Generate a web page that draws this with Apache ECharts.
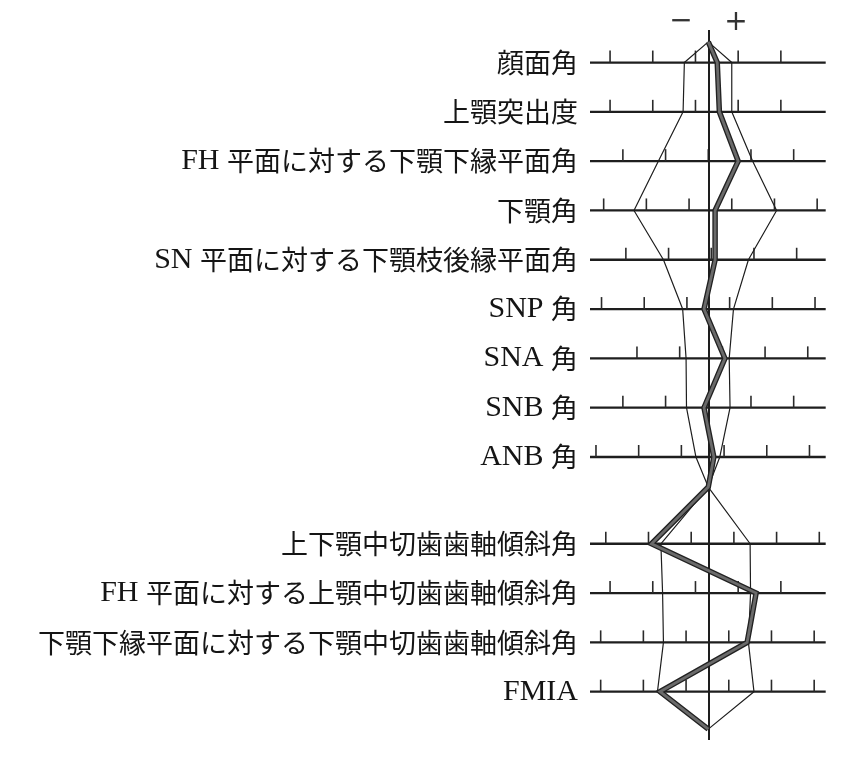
<!DOCTYPE html>
<html>
<head>
<meta charset="utf-8">
<script src="https://cdn.jsdelivr.net/npm/echarts@6/dist/echarts.min.js"></script>
<style>
html,body{margin:0;padding:0;background:#fff;}
#chart{width:844px;height:757px;}
</style>
</head>
<body>
<div id="chart"></div>
<script>
// ---- data (x values in tick-interval units; 0 = mean) ----
const categories = [
  '顔面角',
  '上顎突出度',
  'FH 平面に対する下顎下縁平面角',
  '下顎角',
  'SN 平面に対する下顎枝後縁平面角',
  'SNP 角',
  'SNA 角',
  'SNB 角',
  'ANB 角',
  '上下顎中切歯歯軸傾斜角',
  'FH 平面に対する上顎中切歯歯軸傾斜角',
  '下顎下縁平面に対する下顎中切歯歯軸傾斜角',
  'FMIA'
];
// offset of the scale ticks from the mean, per row
const tickPhase = [-0.3, -0.3, 0, -0.45, 0.07, 0.5, 0.33, 0, 0.37, -0.4, -0.3, 0.48, 0.48];
// mean - 1SD
const normLow  = [-0.56, -0.59, -1.17, -1.74, -1.05, -0.60, -0.52, -0.51, -0.29, -1.11, -1.07, -1.05, -1.19];
// mean + 1SD
const normHigh = [0.55, 0.55, 1.04, 1.60, 0.94, 0.59, 0.49, 0.51, 0.27, 0.98, 0.99, 0.94, 1.07];
// patient
const patient  = [0.21, 0.26, 0.70, 0.16, 0.16, -0.10, 0.39, -0.10, 0.13, -1.33, 1.12, 0.91, -1.13];
const signLabels = ['−', '+'];

// ---- layout ----
const X_MIN = -2.77, X_MAX = 2.75, TICK_LIMIT = 2.65;
const Y_MIN = -0.66, Y_MAX = 13.74;
const UPPER_ROWS = 9, LOWER_SHIFT = 0.76;
const Y_TOP = -0.42, Y_MID = 8.61, Y_BOT = 13.52;
function rowPos(i) { return i < UPPER_ROWS ? i : i + LOWER_SHIFT; }
function buildPath(vals) {
  const pts = [[0, Y_TOP]];
  for (let i = 0; i < UPPER_ROWS; i++) pts.push([vals[i], rowPos(i)]);
  pts.push([0, Y_MID]);
  for (let i = UPPER_ROWS; i < vals.length; i++) pts.push([vals[i], rowPos(i)]);
  pts.push([0, Y_BOT]);
  return pts;
}
function richLabel(s) {
  const parts = s.match(/[A-Za-z ]+|[^A-Za-z ]+/g);
  return parts.map(p => /[A-Za-z]/.test(p) ? '{l|' + p + '}' : '{c|' + p + '}').join('');
}

const rowData = categories.map((c, i) => [X_MIN, rowPos(i), tickPhase[i], i]);

const chart = echarts.init(document.getElementById('chart'), null, {renderer: 'canvas'});
chart.setOption({
  animation: false,
  backgroundColor: '#fff',
  grid: {left: 590, right: 18.3, top: 30, bottom: 17, containLabel: false},
  xAxis: {type: 'value', min: X_MIN, max: X_MAX, show: false},
  yAxis: {type: 'value', min: Y_MIN, max: Y_MAX, inverse: true, show: false},
  graphic: [
    {type: 'text', x: 681, y: 22, z: 10, style: {text: signLabels[0], font: '28px "DejaVu Sans"', fill: '#333', align: 'center', verticalAlign: 'middle'}},
    {type: 'text', x: 736, y: 23, z: 10, style: {text: signLabels[1], font: '28px "DejaVu Sans"', fill: '#333', align: 'center', verticalAlign: 'middle'}}
  ],
  series: [
    {
      type: 'custom',
      name: 'rows',
      clip: false,
      z: 1,
      data: rowData,
      renderItem: function (params, api) {
        const y = api.value(1);
        const phase = api.value(2);
        const idx = api.value(3);
        const p0 = api.coord([X_MIN, y]);
        const p1 = api.coord([X_MAX, y]);
        const children = [
          {type: 'line', shape: {x1: p0[0], y1: p0[1], x2: p1[0], y2: p1[1]}, style: {stroke: '#1e1e1e', lineWidth: 2.3}}
        ];
        const kMin = Math.ceil(-TICK_LIMIT - phase), kMax = Math.floor(TICK_LIMIT - phase);
        for (let k = kMin; k <= kMax; k++) {
          const t = api.coord([phase + k, y]);
          children.push({type: 'line', shape: {x1: t[0], y1: t[1], x2: t[0], y2: t[1] - 12}, style: {stroke: '#2a2a2a', lineWidth: 1.6}});
        }
        children.push({
          type: 'text',
          x: p0[0] - 12, y: p0[1],
          style: {
            text: richLabel(categories[idx]),
            align: 'right', verticalAlign: 'middle', fill: '#151515',
            rich: {
              l: {fontFamily: 'Liberation Serif', fontSize: 30, fill: '#151515'},
              c: {fontFamily: '"Noto Sans CJK JP"', fontSize: 27, fill: '#151515'}
            }
          }
        });
        return {type: 'group', children: children};
      }
    },
    {
      type: 'line', name: 'mean-1SD', data: buildPath(normLow), z: 3,
      symbol: 'none', lineStyle: {color: '#1e1e1e', width: 1.2},
      markLine: {
        silent: true, symbol: 'none', label: {show: false}, animation: false,
        lineStyle: {color: '#1e1e1e', width: 2, type: 'solid'},
        data: [{xAxis: 0}]
      }
    },
    {
      type: 'line', name: 'mean+1SD', data: buildPath(normHigh), z: 3,
      symbol: 'none', lineStyle: {color: '#1e1e1e', width: 1.2}
    },
    {
      type: 'line', name: 'patient-edge', data: buildPath(patient), z: 4,
      symbol: 'none', lineStyle: {color: '#222', width: 5.5, join: 'miter'}
    },
    {
      type: 'line', name: 'patient', data: buildPath(patient), z: 5,
      symbol: 'none', lineStyle: {color: '#6a6a6a', width: 2.8, join: 'miter'}
    }
  ]
});
</script>
</body>
</html>
